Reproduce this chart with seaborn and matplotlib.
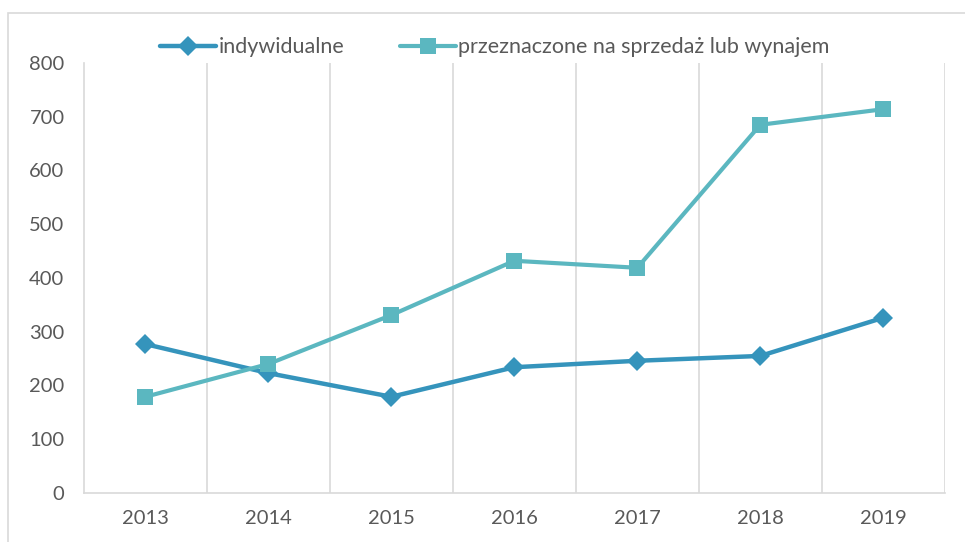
import numpy as np
import pandas as pd
import matplotlib.pyplot as plt
import seaborn as sns
from matplotlib.patches import Rectangle

# dane
lata = ['2013', '2014', '2015', '2016', '2017', '2018', '2019']
indywidualne = [277, 223, 179, 234, 246, 255, 326]
na_sprzedaz = [179, 240, 331, 432, 419, 685, 714]

seria_1 = 'indywidualne'
seria_2 = 'przeznaczone na sprzedaż lub wynajem'

df = pd.DataFrame({'rok': lata, seria_1: indywidualne, seria_2: na_sprzedaz})

sns.set_style('white')
plt.rcParams['font.family'] = ['Lato', 'DejaVu Sans']

fig = plt.figure(figsize=(9.65, 5.42), dpi=100)
ax = fig.add_axes([0.087, 0.0904, 0.892, 0.7934])

kolor_1 = '#3594BC'
kolor_2 = '#5BB7C0'

sns.lineplot(data=df, x='rok', y=seria_1, ax=ax, color=kolor_1, linewidth=3.2,
             marker='D', markersize=10, markeredgewidth=0, label=seria_1, sort=False)
sns.lineplot(data=df, x='rok', y=seria_2, ax=ax, color=kolor_2, linewidth=3.0,
             marker='s', markersize=12, markeredgewidth=0, label=seria_2, sort=False)

n = len(lata)
ax.set_xlim(-0.5, n - 0.5)
ax.set_ylim(0, 800)
ax.set_yticks(range(0, 801, 100))
ax.set_xticks(range(n))
ax.set_xticklabels(lata)

# pionowe linie siatki między kategoriami
for x in np.arange(0.5, n, 1.0):
    ax.axvline(x, color='#D9D9D9', linewidth=1.2, zorder=0)

for s in ['top', 'right']:
    ax.spines[s].set_visible(False)
for s in ['left', 'bottom']:
    ax.spines[s].set_color('#D9D9D9')
    ax.spines[s].set_linewidth(1.2)

ax.tick_params(axis='y', length=0, labelsize=14.5, labelcolor='#595959', pad=14)
ax.tick_params(axis='x', length=0, labelsize=14.5, labelcolor='#595959', pad=12)
ax.set_xlabel('')
ax.set_ylabel('')

leg = ax.legend(loc='center', bbox_to_anchor=(0.513, 0.913), bbox_transform=fig.transFigure,
                ncol=2, frameon=False, fontsize=15.5, handlelength=2.6, handletextpad=0.1,
                columnspacing=2.6)
for t in leg.get_texts():
    t.set_color('#595959')

# ramka wokół wykresu
fig.patches.append(Rectangle((8 / 965, -0.05), 1.1, 1 - 13 / 542 + 0.05,
                             transform=fig.transFigure, fill=False,
                             edgecolor='#D9D9D9', linewidth=1.2))

fig.savefig('out.png', dpi=100)
